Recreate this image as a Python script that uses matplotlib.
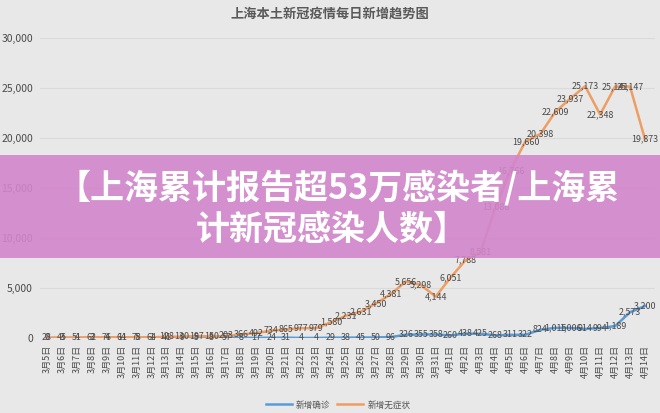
import matplotlib
matplotlib.use("Agg")
import matplotlib.pyplot as plt
from matplotlib.patches import Rectangle
from matplotlib.ticker import FuncFormatter

plt.rcParams['font.family'] = ['Noto Sans CJK SC', 'DejaVu Sans']

# dates 3/5 .. 4/14
dates = [f"3月{d}日" for d in range(5, 32)] + [f"4月{d}日" for d in range(1, 15)]

confirmed = [0, 3, 4, 3, 4, 11, 5, 1, 41, 9, 5, 8, 57, 8, 17, 24, 31, 4, 4,
             29, 38, 45, 50, 96, 326, 355, 358, 260, 438, 425, 268, 311, 322,
             824, 1015, 1006, 914, 994, 1189, 2573, 3200]
asymptomatic = [28, 45, 51, 62, 76, 64, 78, 64, 128, 130, 197, 150, 203, 366,
                492, 734, 865, 977, 979, 1580, 2231, 2631, 3450, 4381, 5656,
                5298, 4144, 6051, 7788, 8581, 13086, 16766, 19660, 20398,
                22609, 23937, 25173, 22348, 25141, 25147, 19873]

bg = '#e8e8e8'
blue = '#5b9bd5'
orange = '#ee9d63'

fig = plt.figure(figsize=(6.6, 4.13), dpi=100, facecolor=bg)
ax = fig.add_axes([40 / 660, 75 / 413, 615 / 660, 300 / 413])
ax.set_facecolor(bg)

x = list(range(len(dates)))
ax.plot(x, confirmed, color=blue, lw=1.8, label='新增确诊', zorder=3)
ax.plot(x, asymptomatic, color=orange, lw=1.8, label='新增无症状', zorder=3)

for xi, v in zip(x, asymptomatic):
    ax.text(xi, v, f"{v:,}", ha='center', va='center', fontsize=6.4,
            color='#4a4a4a', zorder=4)
for xi, v in zip(x, confirmed):
    ax.text(xi, v, f"{v:,}", ha='center', va='center', fontsize=6.4,
            color='#4a4a4a', zorder=4)

ax.set_ylim(0, 30000)
ax.set_xlim(-0.47, 40.67)
ax.set_yticks(range(0, 30001, 5000))
ax.yaxis.set_major_formatter(FuncFormatter(lambda v, p: f"{int(v):,}"))
ax.set_xticks(x)
ax.set_xticklabels(dates, rotation=90, fontsize=6.5, color='#4a4a4a')
ax.tick_params(axis='y', labelsize=7.5, colors='#4a4a4a', length=0, pad=5)
ax.tick_params(axis='x', length=0, pad=5)
ax.grid(axis='y', color='#dadada', lw=0.8)
for s in ax.spines.values():
    s.set_visible(False)

fig.text(0.5, 1 - 14 / 413, '上海本土新冠疫情每日新增趋势图', ha='center',
         va='center', fontsize=9.5, fontweight='bold', color='#595959')

leg = ax.legend(loc='center', bbox_to_anchor=(0.485, (8 - 75) / 300), ncol=2,
                frameon=False, fontsize=6.2, handlelength=3, columnspacing=0.8,
                handletextpad=0.5)
for t in leg.get_texts():
    t.set_color('#555555')

# banner overlay
fig.patches.append(Rectangle((0, (413 - 258) / 413), 1, 103 / 413,
                             transform=fig.transFigure, facecolor='#d285cc',
                             alpha=0.9, zorder=10, edgecolor='none'))
fig.text(0.512, 1 - 188 / 413, '【上海累计报告超53万感染者/上海累', ha='center',
         va='center', fontsize=24.5, fontweight='heavy', color='white', zorder=11)
fig.text(0.503, 1 - 229 / 413, '计新冠感染人数】', ha='center',
         va='center', fontsize=24.5, fontweight='heavy', color='white', zorder=11)

fig.savefig('out.png', dpi=100, facecolor=bg)
